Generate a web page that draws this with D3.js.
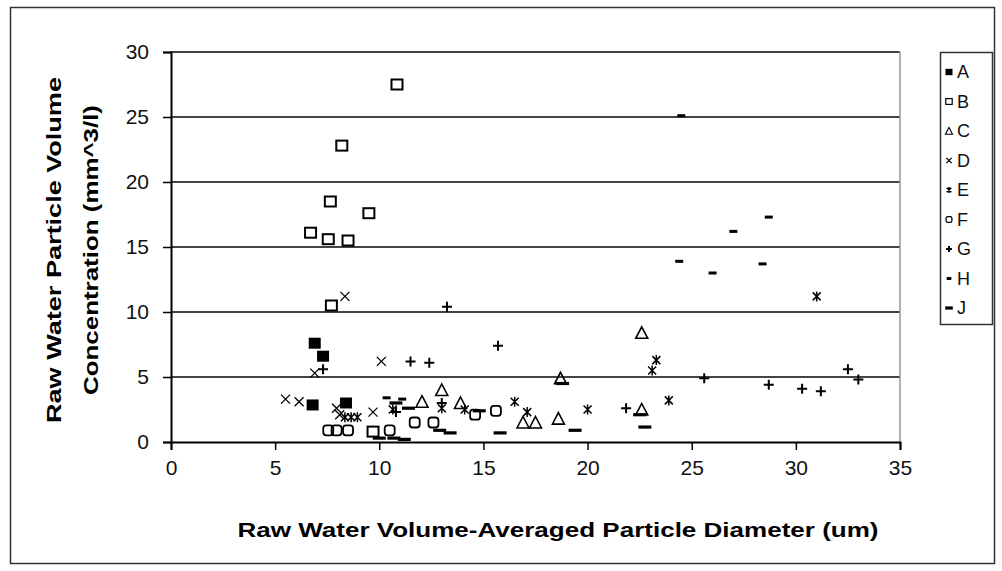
<!DOCTYPE html>
<html><head><meta charset="utf-8">
<script src="https://cdn.jsdelivr.net/npm/d3@7"></script>
<style>body{margin:0;background:#fff}svg{display:block}</style>
</head><body><svg id="c" width="1002" height="571"></svg>
<script>
const xTicks = [0,5,10,15,20,25,30,35];
const yTicks = [0,5,10,15,20,25,30];
const seriesNames = ["A","B","C","D","E","F","G","H","J"];
const A = [[6.9,7.6],[7.3,6.6],[6.8,2.85],[8.4,3.0]];
const B = [[10.85,27.5],[8.2,22.8],[7.65,18.5],[9.5,17.6],[6.7,16.1],[7.55,15.6],[8.5,15.5],[7.7,10.5],[9.7,0.8]];
const C = [[22.6,8.4],[18.7,4.9],[22.6,2.5],[18.6,1.8],[16.9,1.5],[17.5,1.5],[12.05,3.1],[13.0,4.0],[13.9,3.0]];
const D = [[8.35,11.2],[6.9,5.3],[5.5,3.3],[6.15,3.1],[7.95,2.6],[9.7,2.3],[10.1,6.2],[8.1,2.1]];
const E = [[31.0,11.2],[23.3,6.3],[23.1,5.5],[23.9,3.2],[20.0,2.5],[17.1,2.3],[16.5,3.1],[14.1,2.5],[8.35,1.9],[8.65,1.9],[8.95,1.9],[10.65,2.5],[13.0,2.6]];
const F = [[7.55,0.9],[7.95,0.9],[8.5,0.9],[10.5,0.9],[11.7,1.5],[12.6,1.5],[14.6,2.1],[15.6,2.4]];
const G = [[13.25,10.4],[7.3,5.6],[11.5,6.2],[12.4,6.1],[15.7,7.4],[25.6,4.9],[28.7,4.4],[30.3,4.1],[31.2,3.9],[32.5,5.6],[33.0,4.8],[21.85,2.6],[13.0,3.0],[10.8,2.3]];
const H = [[24.5,25.1],[28.7,17.3],[27.0,16.2],[24.4,13.9],[26.0,13.0],[28.4,13.7],[10.35,3.4],[11.1,3.3]];
const J = [[10.0,0.3],[10.7,0.3],[11.2,0.2],[12.9,0.9],[13.4,0.7],[10.8,3.0],[11.4,2.6],[14.8,2.4],[15.8,0.7],[18.8,4.5],[19.4,0.9],[22.5,2.1],[22.75,1.15]];
const seriesData = [A,B,C,D,E,F,G,H,J];

const svg = d3.select("#c");
const x = d3.scaleLinear().domain([0,35]).range([171,900]);
const y = d3.scaleLinear().domain([0,30]).range([442,52]);

svg.append("rect").attr("x",10.5).attr("y",7.5).attr("width",984).attr("height",556)
  .attr("fill","none").attr("stroke","#333").attr("stroke-width",1.5);

svg.append("g").selectAll("line").data(yTicks.filter(d=>d>0)).join("line")
  .attr("x1",x(0)).attr("x2",x(35)).attr("y1",d=>y(d)).attr("y2",d=>y(d))
  .attr("stroke","#444").attr("stroke-width",2);
svg.append("line").attr("x1",x(35)).attr("x2",x(35)).attr("y1",y(30)).attr("y2",y(0))
  .attr("stroke","#999").attr("stroke-width",1.5);

const tickFont = "'Liberation Sans',Arial,sans-serif";
const xAxis = svg.append("g").attr("transform",`translate(0,${y(0)})`)
  .call(d3.axisBottom(x).tickValues(xTicks).tickSize(8).tickPadding(10));
const yAxis = svg.append("g").attr("transform",`translate(${x(0)},0)`)
  .call(d3.axisLeft(y).tickValues(yTicks).tickSize(8).tickPadding(14));
[xAxis,yAxis].forEach(g=>{
  g.select(".domain").attr("stroke","#000").attr("stroke-width",2);
  g.selectAll(".tick line").attr("stroke","#000").attr("stroke-width",1.5);
  g.selectAll(".tick text").attr("font-family",tickFont).attr("font-size",21).attr("fill","#111");
});

function drawMarker(g, name, s) {
  const k = s/12;
  switch(name){
    case "A": g.append("rect").attr("x",-6*k).attr("y",-5.5*k).attr("width",12*k).attr("height",11*k).attr("fill","#000"); break;
    case "B": g.append("rect").attr("x",-5.5*k).attr("y",-5*k).attr("width",11*k).attr("height",10*k).attr("fill","none").attr("stroke","#000").attr("stroke-width",2*Math.max(k,0.6)); break;
    case "C": g.append("path").attr("d",`M0,${-6*k}L${6*k},${5.5*k}L${-6*k},${5.5*k}Z`).attr("fill","none").attr("stroke","#000").attr("stroke-width",1.6*Math.max(k,0.7)); break;
    case "D": g.append("path").attr("d",`M${-4.5*k},${-4.5*k}L${4.5*k},${4.5*k}M${4.5*k},${-4.5*k}L${-4.5*k},${4.5*k}`).attr("stroke","#000").attr("stroke-width",1.3); break;
    case "E": g.append("path").attr("d",`M${-4*k},${-4*k}L${4*k},${4*k}M${4*k},${-4*k}L${-4*k},${4*k}M0,${-5*k}L0,${5*k}`).attr("stroke","#000").attr("stroke-width",1.5); break;
    case "F": g.append("rect").attr("x",-5*k).attr("y",-5*k).attr("width",10*k).attr("height",10*k).attr("rx",3*k).attr("fill","none").attr("stroke","#000").attr("stroke-width",1.8*Math.max(k,0.7)); break;
    case "G": g.append("path").attr("d",`M${-5*k},0L${5*k},0M0,${-5*k}L0,${5*k}`).attr("stroke","#000").attr("stroke-width",2); break;
    case "H": g.append("rect").attr("x",-4*k).attr("y",-1.5).attr("width",8*k).attr("height",3).attr("fill","#000"); break;
    case "J": g.append("rect").attr("x",-6.5*k).attr("y",-1.6).attr("width",13*k).attr("height",3.2).attr("fill","#000"); break;
  }
}
seriesNames.forEach((name,i)=>{
  const g = svg.append("g");
  g.selectAll("g").data(seriesData[i]).join("g")
    .attr("transform",d=>`translate(${x(d[0])},${y(d[1])})`)
    .each(function(){ drawMarker(d3.select(this), name, 12); });
});

const lg = svg.append("g");
lg.append("rect").attr("x",940.5).attr("y",52.5).attr("width",52).attr("height",272)
  .attr("fill","#fff").attr("stroke","#333").attr("stroke-width",1.5);
seriesNames.forEach((name,i)=>{
  const cy = 72 + i*29.5;
  const g = lg.append("g").attr("transform",`translate(949,${cy})`);
  drawMarker(g, name, 7);
  lg.append("text").attr("x",957).attr("y",cy).attr("dy","0.36em")
    .attr("font-family","'Liberation Sans',Arial,sans-serif").attr("font-size",18).attr("fill","#111").text(name);
});

const titleFont = "'Liberation Sans',Arial,sans-serif";
svg.append("text").attr("x",558).attr("y",537).attr("text-anchor","middle")
  .attr("font-family",titleFont).attr("font-weight","bold").attr("font-size",20)
  .attr("textLength",641).attr("lengthAdjust","spacingAndGlyphs")
  .text("Raw Water Volume-Averaged Particle Diameter (um)");
const yt = svg.append("g").attr("transform","translate(0,250) rotate(-90)");
yt.append("text").attr("x",0).attr("y",61).attr("text-anchor","middle")
  .attr("font-family",titleFont).attr("font-weight","bold").attr("font-size",20)
  .attr("textLength",346).attr("lengthAdjust","spacingAndGlyphs")
  .text("Raw Water Particle Volume");
yt.append("text").attr("x",0).attr("y",98).attr("text-anchor","middle")
  .attr("font-family",titleFont).attr("font-weight","bold").attr("font-size",20)
  .attr("textLength",290).attr("lengthAdjust","spacingAndGlyphs")
  .text("Concentration (mm^3/l)");
</script></body></html>
